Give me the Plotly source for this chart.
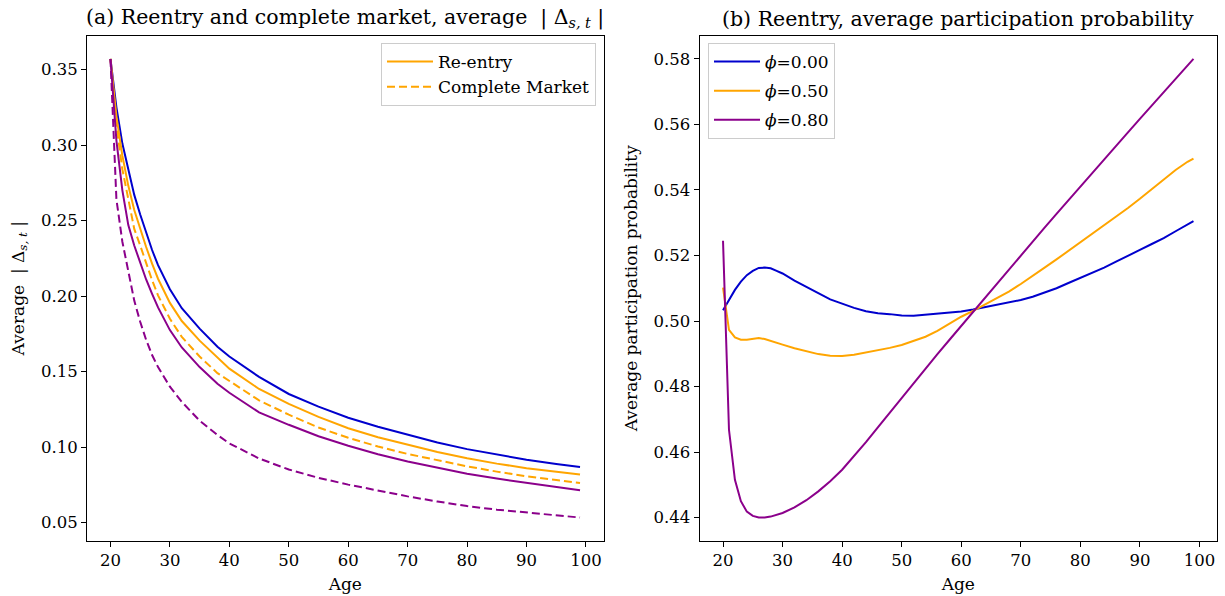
import plotly.graph_objects as go

# ---------------- data: panel (a) ----------------
AGES_A = [20, 21, 22, 23, 24, 25, 26, 27, 28, 30, 32, 35, 38, 40, 45, 50, 55, 60, 65, 70, 75, 80, 85, 90, 95, 99]

REENTRY_PHI0 = [0.357, 0.325, 0.301, 0.283, 0.267, 0.254, 0.2415, 0.2305, 0.2205, 0.2045, 0.192, 0.1785, 0.1665,
                0.1600, 0.1465, 0.1352, 0.1268, 0.1195, 0.1135, 0.1081, 0.1031, 0.0987, 0.0949, 0.0916, 0.0889, 0.0868]
REENTRY_PHI5 = [0.357, 0.319, 0.293, 0.273, 0.257, 0.2445, 0.2325, 0.2215, 0.2115, 0.1955, 0.1835, 0.1705, 0.1595,
                0.1520, 0.1385, 0.1286, 0.1200, 0.1125, 0.1066, 0.1015, 0.0968, 0.0927, 0.0891, 0.0861, 0.0836, 0.0819]
COMPLETE_PHI5 = [0.357, 0.313, 0.284, 0.263, 0.2445, 0.2335, 0.2215, 0.2105, 0.2005, 0.1850, 0.1730, 0.1600, 0.1490,
                 0.1440, 0.1310, 0.1215, 0.1130, 0.1062, 0.1004, 0.0955, 0.0912, 0.0873, 0.0838, 0.0807, 0.0782, 0.0763]
REENTRY_PHI8 = [0.357, 0.303, 0.270, 0.247, 0.2335, 0.2225, 0.2110, 0.2015, 0.1925, 0.1775, 0.1660, 0.1530, 0.1420,
                0.1360, 0.1230, 0.1148, 0.1072, 0.1009, 0.0953, 0.0905, 0.0862, 0.0824, 0.0792, 0.0763, 0.0736, 0.0714]
COMPLETE_PHI8 = [0.357, 0.264, 0.236, 0.216, 0.197, 0.183, 0.171, 0.161, 0.153, 0.140, 0.130, 0.1175, 0.1080,
                 0.1025, 0.0925, 0.0852, 0.0797, 0.0752, 0.0711, 0.0674, 0.0640, 0.0610, 0.0586, 0.0566, 0.0548, 0.0534]

# ---------------- data: panel (b) ----------------
AGES_B = [20, 21, 22, 23, 24, 25, 26, 27, 28, 29, 30, 32, 34, 36, 38, 40, 42, 44, 46, 48, 50, 52, 54, 56, 58,
          60, 62, 64, 66, 68, 70, 72, 74, 76, 78, 80, 82, 84, 86, 88, 90, 92, 94, 96, 98, 99]

PART_PHI0 = [0.5033, 0.5065, 0.5095, 0.5120, 0.5140, 0.5153, 0.5162, 0.5163, 0.5161, 0.5153, 0.5145, 0.5123,
             0.5105, 0.5085, 0.5066, 0.5052, 0.5040, 0.5030, 0.5024, 0.5021, 0.5017, 0.5016, 0.5019, 0.5022,
             0.5024, 0.5029, 0.5035, 0.5042, 0.5050, 0.5056, 0.5064, 0.5074, 0.5087, 0.5100, 0.5116, 0.5131,
             0.5147, 0.5163, 0.5181, 0.5198, 0.5217, 0.5235, 0.5253, 0.5274, 0.5295, 0.5305]
PART_PHI5 = [0.5102, 0.4973, 0.4950, 0.4943, 0.4943, 0.4946, 0.4948, 0.4945, 0.4940, 0.4935, 0.4928, 0.4917,
             0.4907, 0.4899, 0.4894, 0.4893, 0.4897, 0.4904, 0.4910, 0.4918, 0.4927, 0.4939, 0.4952, 0.4970,
             0.4991, 0.5013, 0.5031, 0.5050, 0.5070, 0.5090, 0.5113, 0.5139, 0.5163, 0.5188, 0.5214, 0.5240,
             0.5266, 0.5292, 0.5318, 0.5345, 0.5373, 0.5403, 0.5432, 0.5461, 0.5486, 0.5496]
PART_PHI8 = [0.5245, 0.4668, 0.4515, 0.4450, 0.4418, 0.4405, 0.4400, 0.4400, 0.4403, 0.4408, 0.4414, 0.4431,
             0.4453, 0.4480, 0.4511, 0.4546, 0.4587, 0.4630, 0.4675, 0.4720, 0.4766, 0.4811, 0.4856, 0.4899,
             0.4942, 0.4985, 0.5028, 0.5072, 0.5116, 0.5159, 0.5201, 0.5243, 0.5285, 0.5327, 0.5369, 0.5411,
             0.5453, 0.5494, 0.5535, 0.5576, 0.5617, 0.5658, 0.5698, 0.5739, 0.5780, 0.5800]

PHI_LABELS = ["<i>ϕ</i>=0.00", "<i>ϕ</i>=0.50", "<i>ϕ</i>=0.80"]

BLUE = "#0000CD"
ORANGE = "#FFA500"
PURPLE = "#8B008B"
FONT = "DejaVu Serif"
W, H = 1225, 596
TICK = 16.5
LAB = 17
LEG = 17
TITLE = 20.5

fig = go.Figure()

# panel (a)
fig.add_trace(go.Scatter(x=AGES_A, y=REENTRY_PHI0, mode="lines", line=dict(color=BLUE, width=2),
                         showlegend=False, xaxis="x", yaxis="y"))
fig.add_trace(go.Scatter(x=AGES_A, y=REENTRY_PHI5, mode="lines", line=dict(color=ORANGE, width=2),
                         name="Re-entry", legend="legend", legendgroup="a1", xaxis="x", yaxis="y"))
fig.add_trace(go.Scatter(x=AGES_A, y=COMPLETE_PHI5, mode="lines", line=dict(color=ORANGE, width=2, dash="8px,4px"),
                         name="Complete Market", legend="legend", legendgroup="a2", xaxis="x", yaxis="y"))
fig.add_trace(go.Scatter(x=AGES_A, y=REENTRY_PHI8, mode="lines", line=dict(color=PURPLE, width=2),
                         showlegend=False, xaxis="x", yaxis="y"))
fig.add_trace(go.Scatter(x=AGES_A, y=COMPLETE_PHI8, mode="lines", line=dict(color=PURPLE, width=2, dash="8px,4px"),
                         showlegend=False, xaxis="x", yaxis="y"))

# panel (b)
for vals, col, lab, g in [(PART_PHI0, BLUE, PHI_LABELS[0], "b1"),
                          (PART_PHI5, ORANGE, PHI_LABELS[1], "b2"),
                          (PART_PHI8, PURPLE, PHI_LABELS[2], "b3")]:
    fig.add_trace(go.Scatter(x=AGES_B, y=vals, mode="lines", line=dict(color=col, width=2),
                             name=lab, legend="legend2", legendgroup=g, xaxis="x2", yaxis="y2"))

top = 1 - 36 / H
bot = 1 - 540.5 / H
xa = [87 / W, 603.5 / W]
xb = [699.5 / W, 1217 / W]

axis_common = dict(showline=True, mirror=True, linecolor="black", linewidth=1, ticks="outside",
                   ticklen=5, tickwidth=1, tickcolor="black", showgrid=False, zeroline=False,
                   tickfont=dict(family=FONT, size=TICK, color="black"))

fig.update_layout(
    width=W, height=H,
    margin=dict(l=0, r=0, t=0, b=0),
    paper_bgcolor="white", plot_bgcolor="white",
    font=dict(family=FONT, size=TICK, color="black"),
    xaxis=dict(domain=xa, anchor="y", range=[16.05, 102.95], tickmode="array",
               tickvals=[20, 30, 40, 50, 60, 70, 80, 90, 100],
               title=dict(text="Age", font=dict(family=FONT, size=LAB), standoff=8), **axis_common),
    yaxis=dict(domain=[bot, top], anchor="x", range=[0.0382, 0.3722], tickmode="array",
               tickvals=[0.05, 0.10, 0.15, 0.20, 0.25, 0.30, 0.35], tickformat=".2f",
               title=dict(text="Average  | Δ<sub><i>s, t</i></sub> |", font=dict(family=FONT, size=LAB), standoff=12),
               **axis_common),
    xaxis2=dict(domain=xb, anchor="y2", range=[16.05, 102.95], tickmode="array",
                tickvals=[20, 30, 40, 50, 60, 70, 80, 90, 100],
                title=dict(text="Age", font=dict(family=FONT, size=LAB), standoff=8), **axis_common),
    yaxis2=dict(domain=[bot, top], anchor="x2", range=[0.433, 0.587], tickmode="array",
                tickvals=[0.44, 0.46, 0.48, 0.50, 0.52, 0.54, 0.56, 0.58], tickformat=".2f",
                title=dict(text="Average participation probability", font=dict(family=FONT, size=LAB), standoff=11),
                **axis_common),
    legend=dict(x=596 / W, y=1 - 43 / H, xanchor="right", yanchor="top", bgcolor="white",
                bordercolor="#cccccc", borderwidth=1, font=dict(family=FONT, size=LEG),
                tracegroupgap=0, itemwidth=46),
    legend2=dict(x=708 / W, y=1 - 43 / H, xanchor="left", yanchor="top", bgcolor="white",
                 bordercolor="#cccccc", borderwidth=1, font=dict(family=FONT, size=LEG),
                 tracegroupgap=4, itemwidth=46),
    annotations=[
        dict(text="(a) Reentry and complete market, average  | Δ<sub><i>s, t</i></sub> |",
             x=(xa[0] + xa[1]) / 2, y=top, xref="paper", yref="paper", xanchor="center", yanchor="bottom",
             yshift=3, showarrow=False, font=dict(family=FONT, size=TITLE, color="black")),
        dict(text="(b) Reentry, average participation probability",
             x=(xb[0] + xb[1]) / 2, y=top, xref="paper", yref="paper", xanchor="center", yanchor="bottom",
             yshift=3, showarrow=False, font=dict(family=FONT, size=TITLE, color="black")),
    ],
)

fig.write_html("out.html")
